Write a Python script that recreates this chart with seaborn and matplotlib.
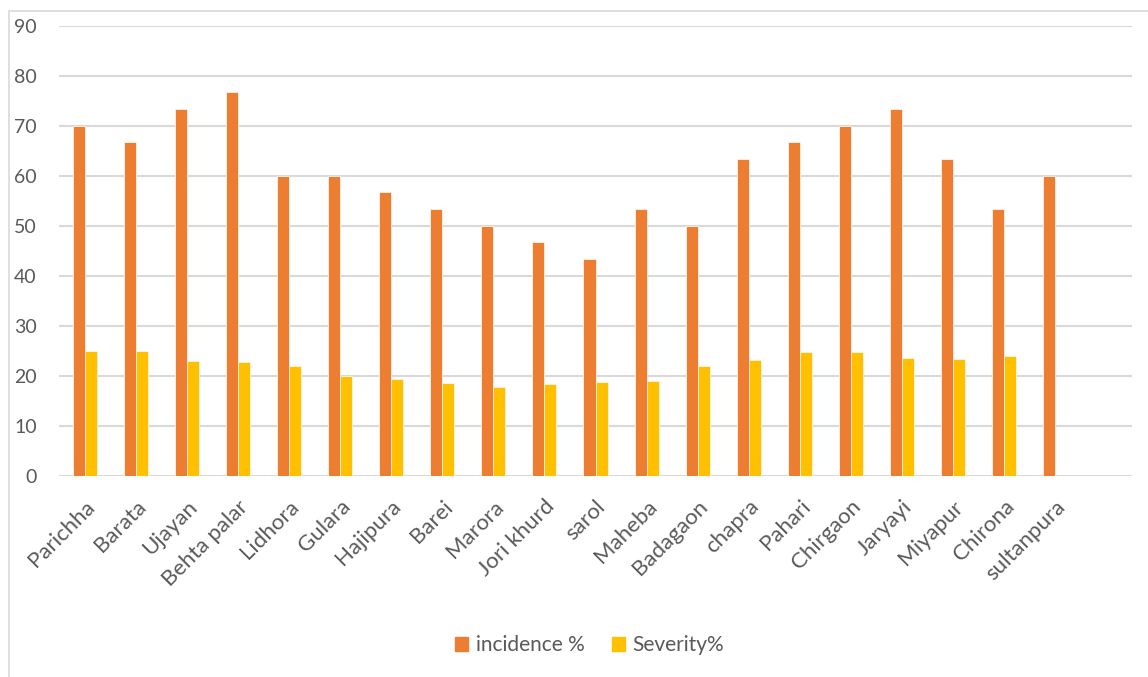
import matplotlib
matplotlib.use("Agg")
import matplotlib.pyplot as plt
import matplotlib.patches as mpatches
import seaborn as sns
import numpy as np
import pandas as pd

villages = ["Parichha", "Barata", "Ujayan", "Behta palar", "Lidhora", "Gulara",
            "Hajipura", "Barei", "Marora", "Jori khurd", "sarol", "Maheba",
            "Badagaon", "chapra", "Pahari", "Chirgaon", "Jaryayi", "Miyapur",
            "Chirona", "sultanpura"]
incidence = [70, 66.67, 73.33, 76.67, 60, 60, 56.67, 53.33, 50, 46.67, 43.33,
             53.33, 50, 63.33, 66.67, 70, 73.33, 63.33, 53.33, 60]
severity = [25, 25, 23, 22.7, 22, 20, 19.4, 18.5, 17.7, 18.3, 18.7, 18.9,
            22, 23.1, 24.8, 24.7, 23.5, 23.3, 23.9, np.nan]
series_names = ["incidence %", "Severity%"]
colors = ["#ED7D31", "#FFC000"]

df = pd.DataFrame({
    "village": villages * 2,
    "series": [series_names[0]] * len(villages) + [series_names[1]] * len(villages),
    "value": incidence + severity,
})

sns.set_theme(style="white")
plt.rcParams["font.family"] = ["Lato", "DejaVu Sans"]

W, H = 1148, 677
fig = plt.figure(figsize=(W / 100, H / 100), dpi=100)
ax = fig.add_axes([59 / W, 1 - 475.7 / H, (1132 - 59) / W, (475.7 - 25.7) / H])

sns.barplot(data=df, x="village", y="value", hue="series", order=villages,
            hue_order=series_names, palette=colors, saturation=1, width=0.47, ax=ax,
            edgecolor="#FFF3E8", linewidth=0.6, errorbar=None, legend=False)

ax.set_xlim(-0.5, len(villages) + 0.5)
ax.set_ylim(0, 90)
ax.set_yticks(range(0, 91, 10))
ax.yaxis.grid(True, color="#D9D9D9", linewidth=1.5)
ax.set_axisbelow(True)
for s in ax.spines.values():
    s.set_visible(False)
ax.tick_params(axis="both", length=0, colors="#595959", labelsize=14)
ax.tick_params(axis="y", pad=16)
ax.tick_params(axis="x", pad=15, labelsize=16)
for lab in ax.get_xticklabels():
    lab.set_rotation(45)
    lab.set_ha("right")
    lab.set_rotation_mode("anchor")
ax.set_xlabel("")
ax.set_ylabel("")

# chart border (left and top visible)
fig.add_artist(mpatches.Rectangle((9 / W, -0.1), 1.1, 1.1 - 11 / H,
                                  transform=fig.transFigure, fill=False,
                                  edgecolor="#D9D9D9", linewidth=1.2))

handles = [mpatches.Patch(color=c, label=n) for c, n in zip(colors, series_names)]
leg = fig.legend(handles=handles, loc="center", bbox_to_anchor=(0.5135, 1 - 645 / H),
                 ncol=2, frameon=False, fontsize=15, handlelength=0.65,
                 handleheight=0.65, handletextpad=0.35, columnspacing=1.3)
for t in leg.get_texts():
    t.set_color("#595959")

fig.savefig("out.png", dpi=100)
